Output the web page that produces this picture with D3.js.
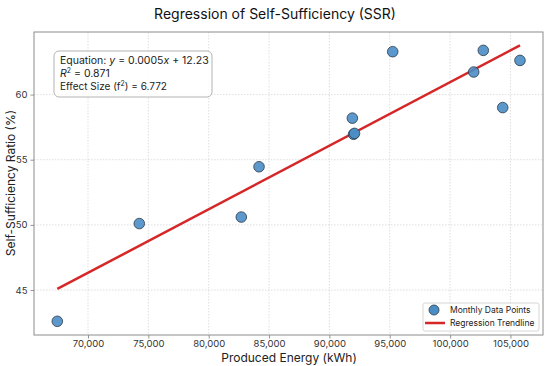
<!DOCTYPE html>
<html>
<head>
<meta charset="utf-8">
<script src="https://cdn.jsdelivr.net/npm/d3@7"></script>
<style>
  body { margin: 0; background: #fff; }
  svg { display: block; font-family: "Inter", "Noto Sans", sans-serif; }
</style>
</head>
<body>
<svg id="chart" width="550" height="366"></svg>
<script>
"use strict";

// data
const producedEnergy = [67456, 74250, 82700, 84170, 91900, 92000, 92080, 95245, 101955, 102750, 104360, 105790];
const selfSufficiency = [42.6, 50.1, 50.6, 54.46, 58.19, 56.95, 57.02, 63.29, 61.73, 63.39, 59.0, 62.62];
const trendSlope = 0.0004876;
const trendIntercept = 12.19;
const xTicks = [70000, 75000, 80000, 85000, 90000, 95000, 100000, 105000];
const yTicks = [45, 50, 55, 60];
const statsLines = ["Equation: ", "R", "Effect Size (f"];

const width = 550, height = 366;
const margin = {left: 34, right: 7, top: 32, bottom: 31};

const svg = d3.select("#chart");

const x = d3.scaleLinear()
    .domain([65526, 107697])
    .range([margin.left, width - margin.right]);
const y = d3.scaleLinear()
    .domain([41.55, 64.8])
    .range([height - margin.bottom, margin.top]);

// grid
svg.append("g")
    .selectAll("line")
    .data(xTicks)
    .enter().append("line")
    .attr("x1", d => x(d)).attr("x2", d => x(d))
    .attr("y1", margin.top).attr("y2", height - margin.bottom)
    .attr("stroke", "#d6d6d6").attr("stroke-width", 0.8)
    .attr("stroke-dasharray", "1.5,1.5");
svg.append("g")
    .selectAll("line")
    .data(yTicks)
    .enter().append("line")
    .attr("x1", margin.left).attr("x2", width - margin.right)
    .attr("y1", d => y(d)).attr("y2", d => y(d))
    .attr("stroke", "#d6d6d6").attr("stroke-width", 0.8)
    .attr("stroke-dasharray", "1.5,1.5");

// axes
const xAxis = svg.append("g")
    .attr("transform", `translate(0,${height - margin.bottom})`)
    .call(d3.axisBottom(x).tickValues(xTicks).tickFormat(d3.format(",")).tickSizeOuter(0).tickSize(3.5).tickPadding(2));
const yAxis = svg.append("g")
    .attr("transform", `translate(${margin.left},0)`)
    .call(d3.axisLeft(y).tickValues(yTicks).tickSizeOuter(0).tickSize(3.5).tickPadding(3));
[xAxis, yAxis].forEach(a => {
    a.select(".domain").remove();
    a.selectAll(".tick line").attr("stroke", "#777").attr("stroke-width", 0.8);
    a.selectAll(".tick text").attr("fill", "#333").style("font-size", "9.5px")
        .style("font-family", "Inter, 'Noto Sans', sans-serif");
});

// frame
svg.append("rect")
    .attr("x", margin.left).attr("y", margin.top)
    .attr("width", width - margin.left - margin.right)
    .attr("height", height - margin.top - margin.bottom)
    .attr("fill", "none").attr("stroke", "#8c8c8c").attr("stroke-width", 1);

// regression line
const xExtent = d3.extent(producedEnergy);
svg.append("line")
    .attr("x1", x(xExtent[0])).attr("y1", y(trendSlope * xExtent[0] + trendIntercept))
    .attr("x2", x(xExtent[1])).attr("y2", y(trendSlope * xExtent[1] + trendIntercept))
    .attr("stroke", "#d62728").attr("stroke-width", 2.5);

// points
svg.append("g")
    .selectAll("circle")
    .data(producedEnergy.map((e, i) => [e, selfSufficiency[i]]))
    .enter().append("circle")
    .attr("cx", d => x(d[0]))
    .attr("cy", d => y(d[1]))
    .attr("r", 5.3)
    .attr("fill", "#4a8dc5")
    .attr("fill-opacity", 0.9)
    .attr("stroke", "#2b3a48")
    .attr("stroke-width", 0.8);

// title + labels
svg.append("text")
    .attr("x", 275).attr("y", 19)
    .attr("text-anchor", "middle")
    .style("font-size", "14px").attr("fill", "#111")
    .text("Regression of Self-Sufficiency (SSR)");
svg.append("text")
    .attr("x", 289).attr("y", 362)
    .attr("text-anchor", "middle")
    .style("font-size", "12px").attr("fill", "#222")
    .text("Produced Energy (kWh)");
svg.append("text")
    .attr("transform", "translate(15,183) rotate(-90)")
    .attr("text-anchor", "middle")
    .style("font-size", "12px").attr("fill", "#222")
    .text("Self-Sufficiency Ratio (%)");

// stats box
const box = svg.append("g");
box.append("rect")
    .attr("x", 54).attr("y", 51).attr("width", 158).attr("height", 46)
    .attr("rx", 5)
    .attr("fill", "#fff").attr("fill-opacity", 0.85)
    .attr("stroke", "#aaa").attr("stroke-width", 0.9);
const t1 = box.append("text").attr("x", 60).attr("y", 64).style("font-size", "10.5px").attr("fill", "#222");
t1.append("tspan").text(statsLines[0]);
t1.append("tspan").style("font-style", "italic").text("y");
t1.append("tspan").text(" = 0.0005");
t1.append("tspan").style("font-style", "italic").text("x");
t1.append("tspan").text(" + 12.23");
const t2 = box.append("text").attr("x", 60).attr("y", 77).style("font-size", "10.5px").attr("fill", "#222");
t2.append("tspan").style("font-style", "italic").text(statsLines[1]);
t2.append("tspan").attr("dy", -4).style("font-size", "7px").text("2");
t2.append("tspan").attr("dy", 4).text(" = 0.871");
const t3 = box.append("text").attr("x", 60).attr("y", 90).style("font-size", "10px").attr("fill", "#222");
t3.append("tspan").text(statsLines[2]);
t3.append("tspan").attr("dy", -4).style("font-size", "7px").text("2");
t3.append("tspan").attr("dy", 4).text(") = 6.772");

// legend
const legend = svg.append("g");
legend.append("rect")
    .attr("x", 423).attr("y", 303).attr("width", 116).attr("height", 28)
    .attr("rx", 2)
    .attr("fill", "#fff").attr("fill-opacity", 0.85)
    .attr("stroke", "#ccc").attr("stroke-width", 0.8);
legend.append("circle")
    .attr("cx", 434).attr("cy", 310).attr("r", 5)
    .attr("fill", "#4a8dc5").attr("stroke", "#2b3a48").attr("stroke-width", 0.8);
legend.append("line")
    .attr("x1", 425).attr("x2", 445).attr("y1", 323).attr("y2", 323)
    .attr("stroke", "#d62728").attr("stroke-width", 2.5);
legend.append("text").attr("x", 450).attr("y", 313)
    .style("font-size", "8.5px").attr("fill", "#222").text("Monthly Data Points");
legend.append("text").attr("x", 450).attr("y", 326)
    .style("font-size", "8.5px").attr("fill", "#222").text("Regression Trendline");
</script>
</body>
</html>
